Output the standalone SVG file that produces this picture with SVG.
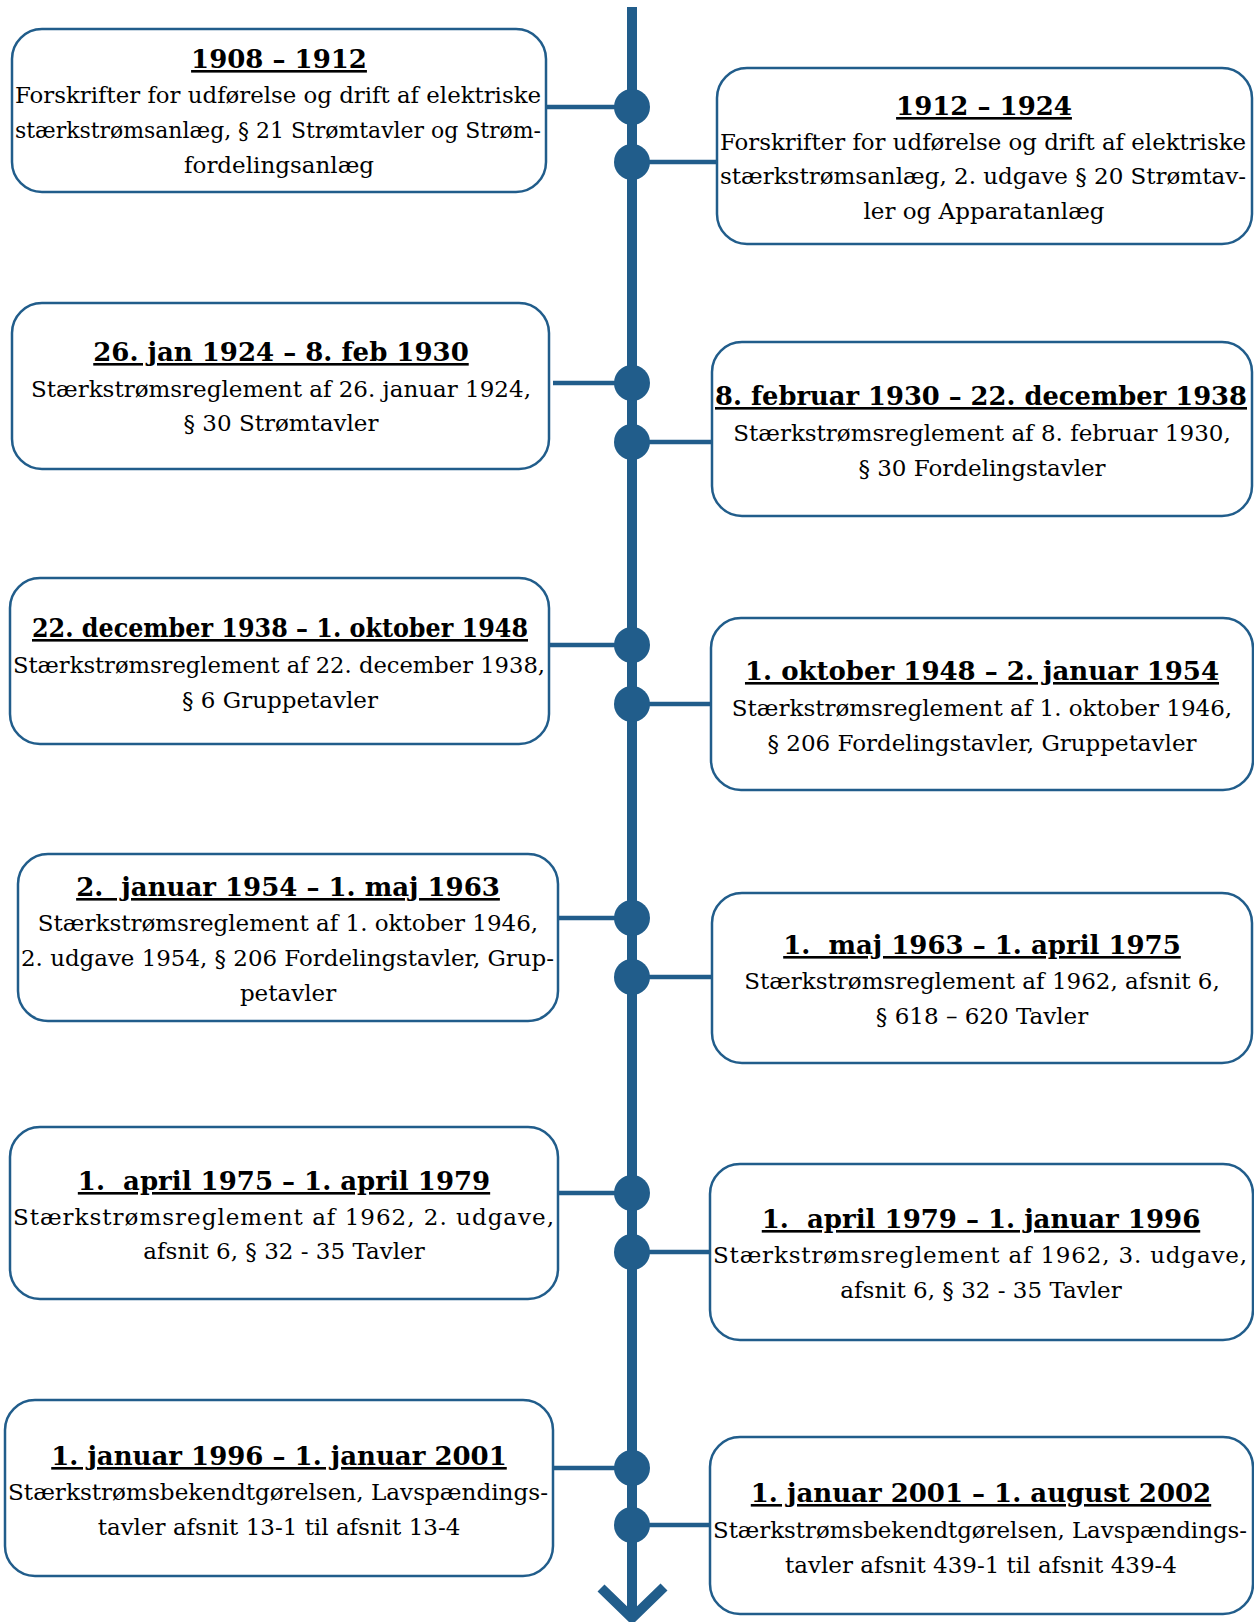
<svg xmlns="http://www.w3.org/2000/svg" width="1254" height="1622" viewBox="0 0 1254 1622">
<style>
.box{fill:#fff;stroke:#215d8b;stroke-width:2.5}
.ln{stroke:#215d8b;stroke-width:4.5;fill:none}
.dot{fill:#215d8b}
text{font-family:"DejaVu Serif","Liberation Serif",serif;fill:#000;text-anchor:middle}
.t{font-size:26px;font-weight:bold;text-decoration:underline}
.b{font-size:23px}
.j{text-anchor:start}
</style>
<rect width="1254" height="1622" fill="#fff"/>
<g id="connectors">
<line x1="632" y1="7" x2="632" y2="1616" stroke="#215d8b" stroke-width="10"/>
<polyline points="601,1588 632,1618 664,1587" fill="none" stroke="#215d8b" stroke-width="10"/>
<line class="ln" x1="546" y1="107" x2="632" y2="107"/>
<line class="ln" x1="632" y1="162" x2="717" y2="162"/>
<line class="ln" x1="553" y1="383" x2="632" y2="383"/>
<line class="ln" x1="632" y1="442" x2="714" y2="442"/>
<line class="ln" x1="549" y1="645" x2="632" y2="645"/>
<line class="ln" x1="632" y1="704" x2="711" y2="704"/>
<line class="ln" x1="558" y1="918" x2="632" y2="918"/>
<line class="ln" x1="632" y1="977" x2="716" y2="977"/>
<line class="ln" x1="558" y1="1193" x2="632" y2="1193"/>
<line class="ln" x1="632" y1="1252" x2="710" y2="1252"/>
<line class="ln" x1="553" y1="1468" x2="632" y2="1468"/>
<line class="ln" x1="632" y1="1525" x2="710" y2="1525"/>
<circle class="dot" cx="632" cy="107" r="18"/>
<circle class="dot" cx="632" cy="162" r="18"/>
<circle class="dot" cx="632" cy="383" r="18"/>
<circle class="dot" cx="632" cy="442" r="18"/>
<circle class="dot" cx="632" cy="645" r="18"/>
<circle class="dot" cx="632" cy="704" r="18"/>
<circle class="dot" cx="632" cy="918" r="18"/>
<circle class="dot" cx="632" cy="977" r="18"/>
<circle class="dot" cx="632" cy="1193" r="18"/>
<circle class="dot" cx="632" cy="1252" r="18"/>
<circle class="dot" cx="632" cy="1468" r="18"/>
<circle class="dot" cx="632" cy="1525" r="18"/>
</g>
<g id="n1">
<rect class="box" x="12" y="29" width="534" height="163" rx="30"/>
<text class="t" x="279" y="68">1908 – 1912</text>
<text class="b j" x="15" y="103" textLength="526" lengthAdjust="spacingAndGlyphs">Forskrifter for udførelse og drift af elektriske</text>
<text class="b j" x="15" y="138" textLength="526" lengthAdjust="spacingAndGlyphs">stærkstrømsanlæg, § 21 Strømtavler og Strøm-</text>
<text class="b" x="279" y="173">fordelingsanlæg</text>
</g>
<g id="n2">
<rect class="box" x="717" y="68" width="535" height="176" rx="30"/>
<text class="t" x="984" y="115">1912 – 1924</text>
<text class="b j" x="720" y="150" textLength="526" lengthAdjust="spacingAndGlyphs">Forskrifter for udførelse og drift af elektriske</text>
<text class="b j" x="720" y="184" textLength="526" lengthAdjust="spacingAndGlyphs">stærkstrømsanlæg, 2. udgave § 20 Strømtav-</text>
<text class="b" x="984" y="219">ler og Apparatanlæg</text>
</g>
<g id="n3">
<rect class="box" x="12" y="303" width="537" height="166" rx="30"/>
<text class="t" x="281" y="361">26. jan 1924 – 8. feb 1930</text>
<text class="b" x="281" y="397">Stærkstrømsreglement af 26. januar 1924,</text>
<text class="b" x="281" y="431">§ 30 Strømtavler</text>
</g>
<g id="n4">
<rect class="box" x="712" y="342" width="540" height="174" rx="30"/>
<text class="t j" x="715" y="405" textLength="532" lengthAdjust="spacingAndGlyphs">8. februar 1930 – 22. december 1938</text>
<text class="b" x="982" y="441">Stærkstrømsreglement af 8. februar 1930,</text>
<text class="b" x="982" y="476">§ 30 Fordelingstavler</text>
</g>
<g id="n5">
<rect class="box" x="10" y="578" width="539" height="166" rx="30"/>
<text class="t j" x="32" y="637" textLength="496" lengthAdjust="spacingAndGlyphs">22. december 1938 – 1. oktober 1948</text>
<text class="b j" x="13" y="673" textLength="532" lengthAdjust="spacingAndGlyphs">Stærkstrømsreglement af 22. december 1938,</text>
<text class="b" x="280" y="708">§ 6 Gruppetavler</text>
</g>
<g id="n6">
<rect class="box" x="711" y="618" width="542" height="172" rx="30"/>
<text class="t" x="982" y="680">1. oktober 1948 – 2. januar 1954</text>
<text class="b" x="982" y="716">Stærkstrømsreglement af 1. oktober 1946,</text>
<text class="b" x="982" y="751">§ 206 Fordelingstavler, Gruppetavler</text>
</g>
<g id="n7">
<rect class="box" x="18" y="854" width="540" height="167" rx="30"/>
<text class="t" x="288" y="896" xml:space="preserve">2.  januar 1954 – 1. maj 1963</text>
<text class="b" x="288" y="931">Stærkstrømsreglement af 1. oktober 1946,</text>
<text class="b j" x="21" y="966" textLength="533" lengthAdjust="spacingAndGlyphs">2. udgave 1954, § 206 Fordelingstavler, Grup-</text>
<text class="b" x="288" y="1001">petavler</text>
</g>
<g id="n8">
<rect class="box" x="712" y="893" width="540" height="170" rx="30"/>
<text class="t" x="982" y="954" xml:space="preserve">1.  maj 1963 – 1. april 1975</text>
<text class="b" x="982" y="989">Stærkstrømsreglement af 1962, afsnit 6,</text>
<text class="b" x="982" y="1024">§ 618 – 620 Tavler</text>
</g>
<g id="n9">
<rect class="box" x="10" y="1127" width="548" height="172" rx="30"/>
<text class="t" x="284" y="1190" xml:space="preserve">1.  april 1975 – 1. april 1979</text>
<text class="b j" x="13" y="1225" textLength="541" lengthAdjust="spacing">Stærkstrømsreglement af 1962, 2. udgave,</text>
<text class="b" x="284" y="1259">afsnit 6, § 32 - 35 Tavler</text>
</g>
<g id="n10">
<rect class="box" x="710" y="1164" width="543" height="176" rx="30"/>
<text class="t" x="981" y="1228" xml:space="preserve">1.  april 1979 – 1. januar 1996</text>
<text class="b j" x="713" y="1263" textLength="534" lengthAdjust="spacing">Stærkstrømsreglement af 1962, 3. udgave,</text>
<text class="b" x="981" y="1298">afsnit 6, § 32 - 35 Tavler</text>
</g>
<g id="n11">
<rect class="box" x="5" y="1400" width="548" height="176" rx="30"/>
<text class="t" x="279" y="1465">1. januar 1996 – 1. januar 2001</text>
<text class="b j" x="8" y="1500" textLength="540" lengthAdjust="spacingAndGlyphs">Stærkstrømsbekendtgørelsen, Lavspændings-</text>
<text class="b" x="279" y="1535">tavler afsnit 13-1 til afsnit 13-4</text>
</g>
<g id="n12">
<rect class="box" x="710" y="1437" width="543" height="177" rx="30"/>
<text class="t" x="981" y="1502">1. januar 2001 – 1. august 2002</text>
<text class="b j" x="713" y="1538" textLength="534" lengthAdjust="spacingAndGlyphs">Stærkstrømsbekendtgørelsen, Lavspændings-</text>
<text class="b" x="981" y="1573">tavler afsnit 439-1 til afsnit 439-4</text>
</g>
</svg>
